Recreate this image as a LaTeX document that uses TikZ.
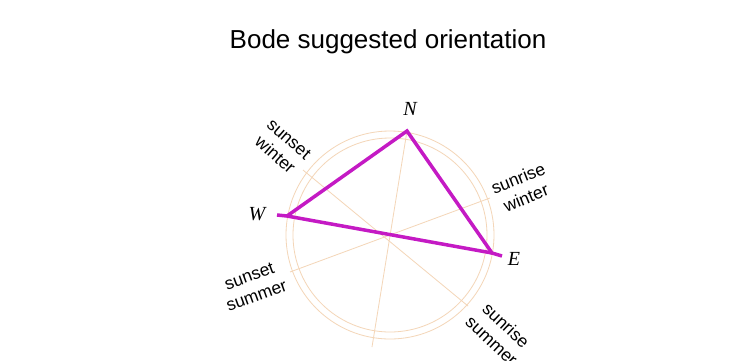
\documentclass[tikz,border=0pt]{standalone}
\usepackage{fontspec}
\setmainfont{Liberation Sans}
\newfontfamily\serifit{Liberation Serif}
\definecolor{peach}{RGB}{244,214,184}
\definecolor{tri}{RGB}{196,26,196}
\begin{document}
\begin{tikzpicture}[x=1pt,y=-1pt,
  guide/.style={draw=peach, line width=0.8pt},
  triline/.style={draw=tri, line width=3.5pt, line join=miter, line cap=butt},
  compass/.style={font=\serifit\itshape\fontsize{20}{22}\selectfont, inner sep=0pt},
  sunlabel/.style={font=\fontsize{17.5}{21}\selectfont, align=center, inner sep=0pt}]
\useasboundingbox[fill=white] (0,0) rectangle (731,360);
% title
\node[font=\fontsize{26}{30}\selectfont] (title) at (388,42) {Bode suggested orientation};
% compass rose
\coordinate (C) at (390,235);
\draw[guide] (C) circle[radius=104];
\draw[guide] (C) circle[radius=97];
\coordinate (na) at (407,131);
\coordinate (nb) at (372,347);
\coordinate (swa) at (303,170);
\coordinate (swb) at (468,306);
\coordinate (rwa) at (490,198);
\coordinate (rwb) at (290,272);
\draw[guide] (na) -- (nb);
\draw[guide] (swa) -- (swb);
\draw[guide] (rwa) -- (rwb);
% triangle
\coordinate (N) at (407,131);
\coordinate (W) at (287,216);
\coordinate (E) at (492,253);
\coordinate (Wt) at (277,215);
\coordinate (Et) at (502,256);
\draw[triline] (Wt) -- (W) -- (N) -- (E) -- (Et);
\draw[triline] (W) -- (E);
% compass letters
\node[compass] (lN) at (410,109) {N};
\node[compass] (lW) at (257,214) {W};
\node[compass] (lE) at (514,259) {E};
% sun labels
\node[sunlabel, rotate=-41] (sw) at (282,147) {sunset\\winter};
\node[sunlabel, rotate=22] (rw) at (522,188) {sunrise\\winter};
\node[sunlabel, rotate=20] (ss) at (253,286) {sunset\\summer};
\node[sunlabel, rotate=-43] (rs) at (499,333) {sunrise\\summer};
\end{tikzpicture}
\end{document}
